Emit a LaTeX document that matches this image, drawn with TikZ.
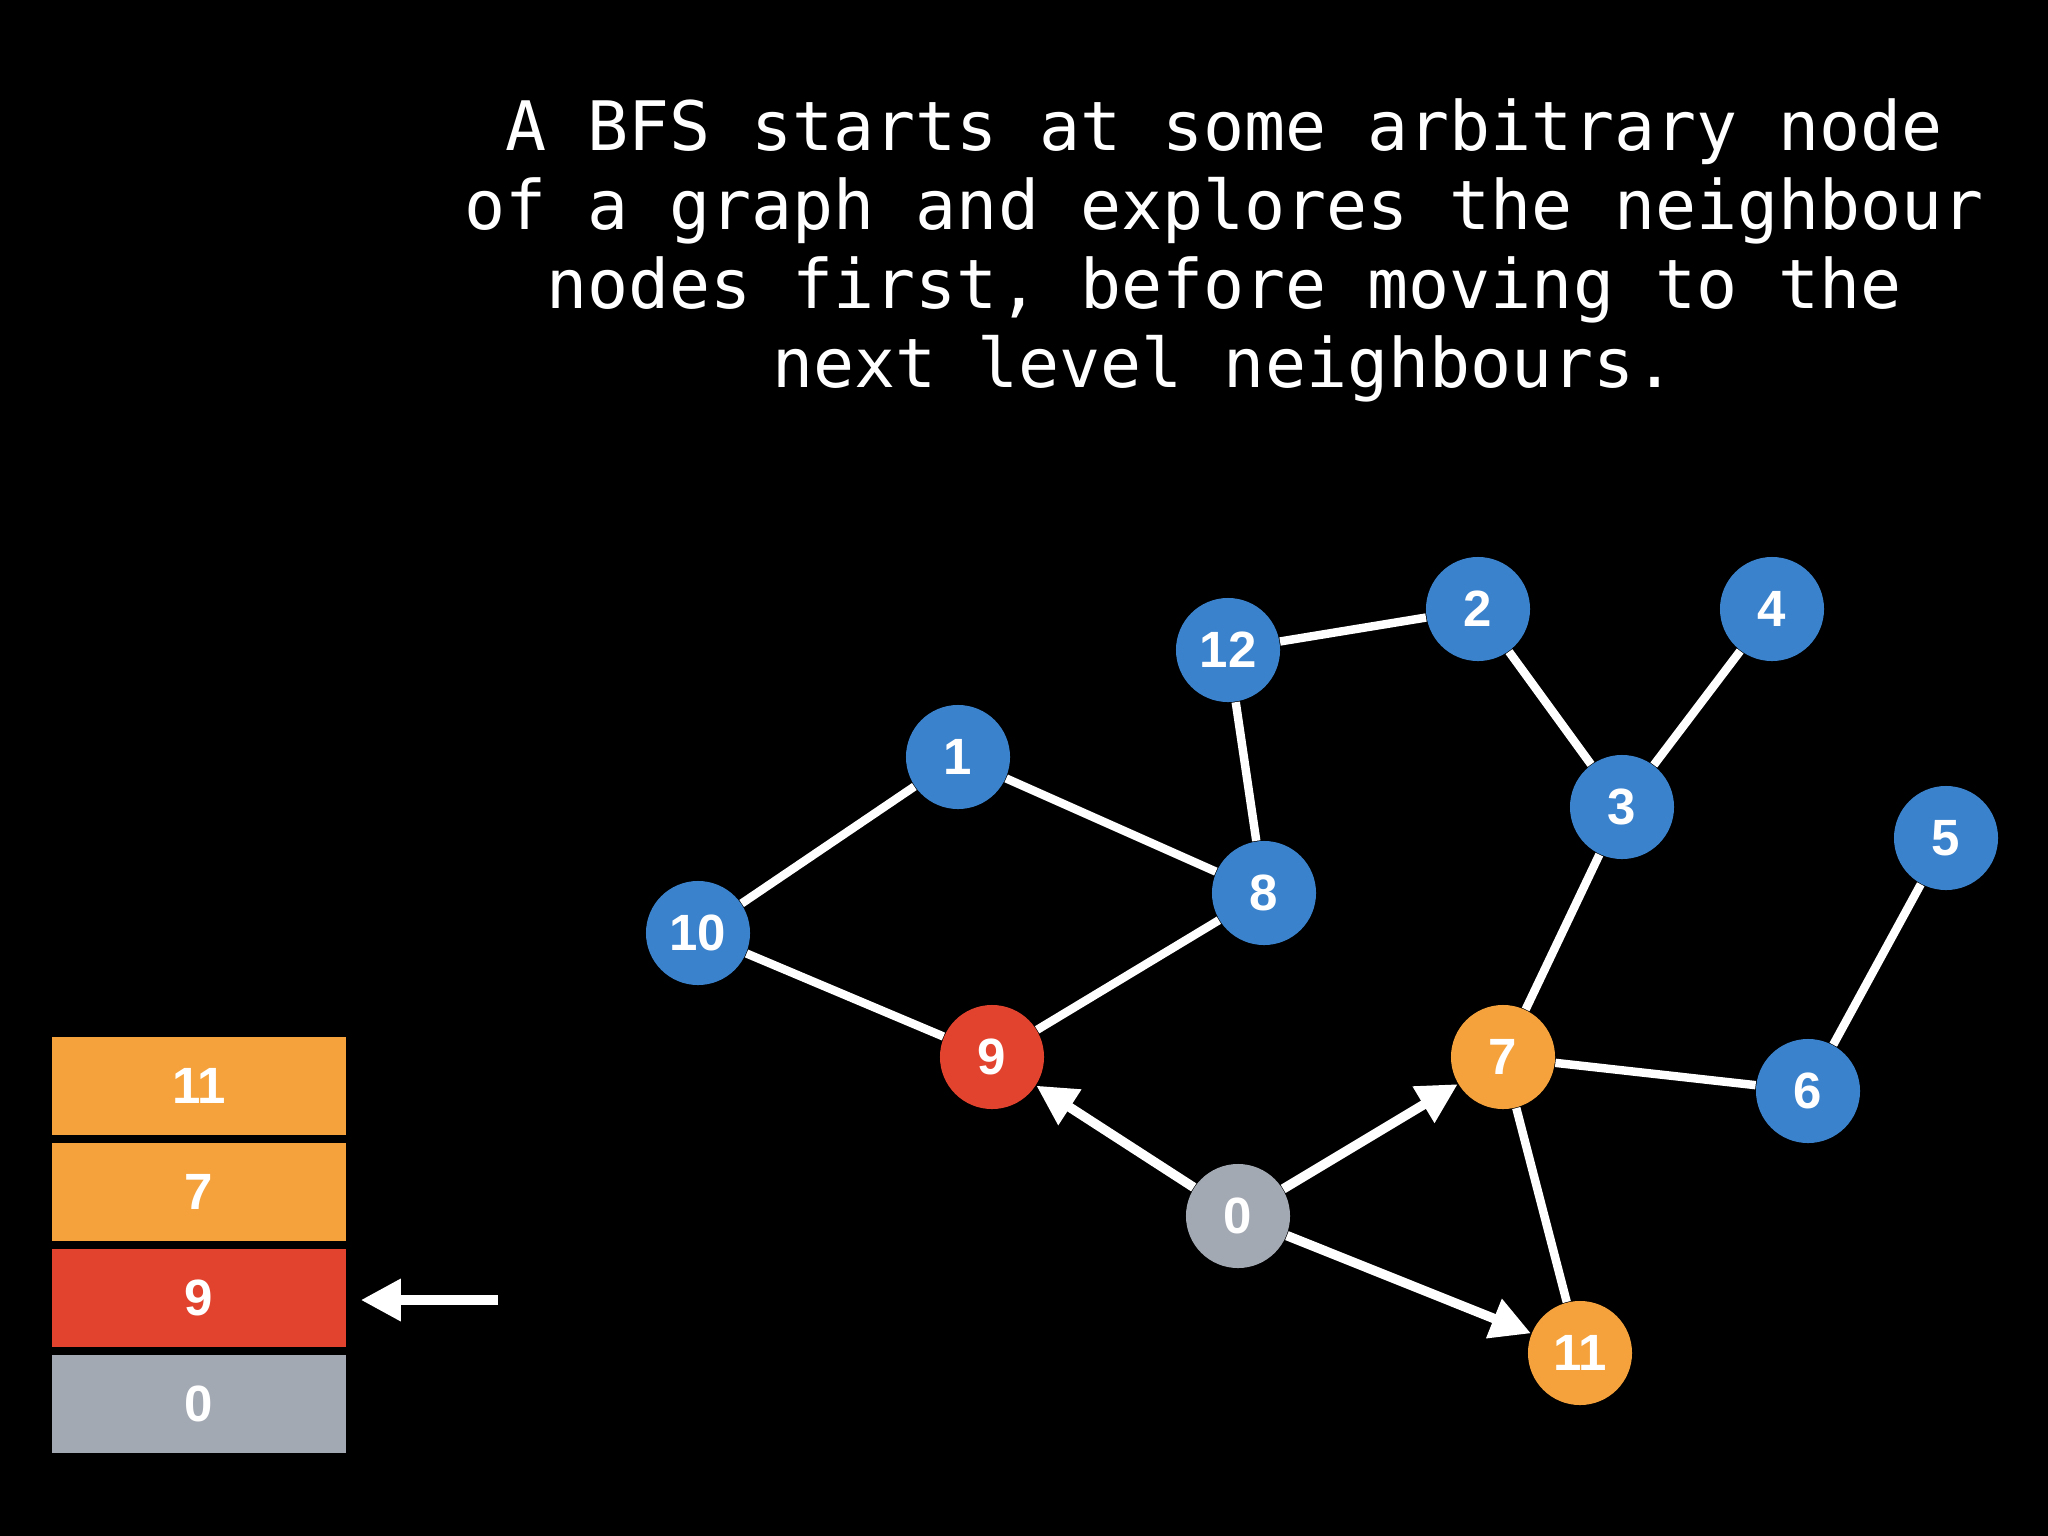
\documentclass[tikz,border=0pt]{standalone}
\usepackage{fontspec}
\usetikzlibrary{arrows.meta}
\newfontfamily\capfont{DejaVu Sans Mono}
\newfontfamily\numfont{Liberation Sans}
\definecolor{bfsBlue}{HTML}{3A82CC}
\definecolor{bfsOrange}{HTML}{F5A23C}
\definecolor{bfsRed}{HTML}{E2432E}
\definecolor{bfsGrey}{HTML}{A3A9B3}

\begin{document}
\begin{tikzpicture}[x=0.01cm, y=-0.01cm,
  vtx/.style={circle, inner sep=0pt, minimum size=1.04cm, fill=bfsBlue, text=white, font=\numfont\bfseries\fontsize{14.5}{17}\selectfont},
  qbox/.style={rectangle, inner sep=0pt, minimum width=2.94cm, minimum height=0.98cm, text=white, font=\numfont\bfseries\fontsize{14.5}{17}\selectfont},
  edg/.style={white, line width=2.4pt},
  arr/.style={-{Triangle[length=0.4cm, width=0.4cm]}, white, line width=2.7pt},
  capt/.style={text=white, align=center, inner sep=0pt, font=\capfont\fontsize{19.4}{22.5}\selectfont}]
\fill[black] (0,0) rectangle (2048,1536);
\node[capt, anchor=north] (cap) at (1224,98)
  {A BFS starts at some arbitrary node\\of a graph and explores the neighbour\\nodes first, before moving to the\\next level neighbours.};

% graph
\node[vtx, fill=bfsGrey] (n0) at (1238,1216) {0};
\node[vtx] (n1) at (958,757) {1};
\node[vtx] (n2) at (1478,609) {2};
\node[vtx] (n3) at (1622,807) {3};
\node[vtx] (n4) at (1772,609) {4};
\node[vtx] (n5) at (1946,838) {5};
\node[vtx] (n6) at (1808,1091) {6};
\node[vtx, fill=bfsOrange] (n7) at (1503,1057) {7};
\node[vtx] (n8) at (1264,893) {8};
\node[vtx, fill=bfsRed] (n9) at (992,1057) {9};
\node[vtx] (n10) at (698,933) {10};
\node[vtx, fill=bfsOrange] (n11) at (1580,1353) {11};
\node[vtx] (n12) at (1228,650) {12};
\foreach \a/\b in {n10/n1,n1/n8,n10/n9,n9/n8,n8/n12,n12/n2,n2/n3,n3/n4,n3/n7,n7/n6,n6/n5,n7/n11}{\draw[edg] (\a) -- (\b);}
\foreach \b in {n9,n7,n11}{\draw[arr] (n0) -- (\b);}

% queue
\node[qbox, fill=bfsOrange] (q11) at (199,1086) {11};
\node[qbox, fill=bfsOrange] (q7) at (199,1192) {7};
\node[qbox, fill=bfsRed] (q9) at (199,1298) {9};
\node[qbox, fill=bfsGrey] (q0) at (199,1404) {0};
\coordinate (ptr) at (498,1300);
\draw[arr, shorten >=0.14cm] (ptr) -- (ptr -| q9.east);
\end{tikzpicture}
\end{document}
